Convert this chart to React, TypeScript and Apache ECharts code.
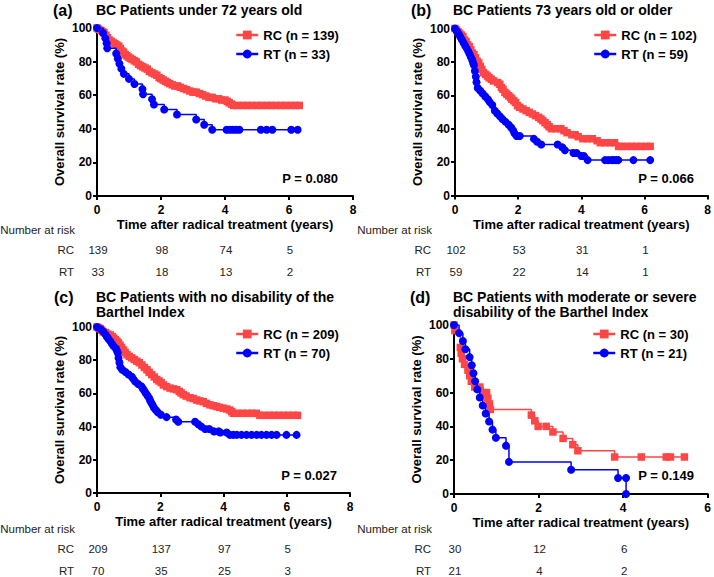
import React, { useEffect, useRef } from "react";
import * as echarts from "echarts";

const FONT = "'Liberation Sans', Arial, Helvetica, sans-serif";
const RED = "#FF4646";
const BLUE = "#0000FF";

// ---- data: [time (years), survival (%)] ----
const rcA = [[0,100],[0.05,99.3],[0.12,98.6],[0.18,97.8],[0.22,97.1],[0.28,95.7],[0.33,94.2],[0.38,92.8],[0.44,92.1],[0.5,91.4],[0.56,90.6],[0.62,89.9],[0.68,89.2],[0.73,87.8],[0.78,86.3],[0.83,85.6],[0.88,84.2],[0.93,83.5],[0.98,82.7],[1.04,82],[1.1,81.3],[1.17,80.5],[1.23,79.8],[1.3,78.4],[1.36,77.6],[1.43,76.9],[1.5,76.2],[1.57,75.5],[1.64,74.1],[1.72,73.3],[1.8,72.6],[1.87,71.9],[1.94,70.5],[2.0,69.8],[2.07,69],[2.14,68.3],[2.2,67.6],[2.27,66.9],[2.35,66.2],[2.43,65.5],[2.52,65.5],[2.6,64.7],[2.7,64],[2.8,63.3],[2.9,62.5],[3.0,61.8],[3.1,61.8],[3.2,61],[3.3,60.3],[3.4,59.5],[3.5,58.7],[3.6,58.7],[3.7,57.9],[3.8,57.9],[3.9,57.1],[4.0,57.1],[4.07,56.3],[4.13,55.5],[4.2,54.7],[4.27,53.9],[4.4,53.9],[4.55,53.9],[4.7,53.9],[4.85,53.9],[5.0,53.9],[5.15,53.9],[5.3,53.9],[5.45,53.9],[5.6,53.9],[5.75,53.9],[5.9,53.9],[6.05,53.9],[6.2,53.9],[6.32,53.9]];
const rtA = [[0,100],[0.19,97],[0.26,93.9],[0.3,90.9],[0.32,87.9],[0.6,84.8],[0.65,81.8],[0.7,78.8],[0.76,75.8],[0.84,72.7],[1.0,69.7],[1.17,66.7],[1.42,63.6],[1.44,60.6],[1.72,57.6],[1.78,54.5],[2.1,51.5],[2.5,48.5],[3.1,45.5],[3.35,42.4],[3.6,39.4],[4.05,39.4],[4.15,39.4],[4.25,39.4],[4.35,39.4],[4.45,39.4],[5.12,39.4],[5.3,39.4],[5.48,39.4],[6.07,39.4],[6.27,39.4]];
const rcB = [[0,100],[0.05,99],[0.1,98],[0.15,97.1],[0.2,96.1],[0.25,95.1],[0.3,93.1],[0.35,92.2],[0.4,90.2],[0.45,89.2],[0.5,87.3],[0.55,85.3],[0.6,84.3],[0.65,82.4],[0.7,80.4],[0.75,79.4],[0.8,77.4],[0.85,75.5],[0.9,73.5],[0.97,72.5],[1.03,71.5],[1.08,70.5],[1.15,69.6],[1.22,68.6],[1.35,67.6],[1.42,66.6],[1.47,64.6],[1.52,63.6],[1.58,61.7],[1.64,60.7],[1.7,59.7],[1.76,58.7],[1.8,57.7],[1.86,56.7],[1.92,55.7],[1.98,53.8],[2.05,52.8],[2.15,51.8],[2.25,50.8],[2.35,49.8],[2.45,48.8],[2.55,47.8],[2.65,46.8],[2.72,45.8],[2.78,44.8],[2.85,43.6],[2.92,42.4],[2.98,41.2],[3.05,40],[3.2,40],[3.35,40],[3.45,38.8],[3.55,37.6],[3.7,36.4],[3.8,36.4],[3.9,35.2],[4.05,34],[4.2,34],[4.35,34],[4.5,32.8],[4.6,31.6],[4.75,31.6],[4.9,31.6],[5.05,31.6],[5.18,29.4],[5.3,29.4],[5.45,29.4],[5.6,29.4],[5.75,29.4],[5.9,29.4],[6.05,29.4],[6.18,29.4]];
const rtB = [[0,100],[0.06,98.3],[0.12,96.6],[0.17,94.9],[0.22,93.2],[0.27,91.5],[0.32,89.8],[0.37,88.1],[0.42,86.4],[0.46,84.7],[0.5,83],[0.54,81.4],[0.57,79.7],[0.6,78],[0.63,74.6],[0.66,71.2],[0.68,67.8],[0.72,64.4],[0.8,62.7],[0.88,61],[0.96,59.3],[1.04,57.6],[1.1,55.9],[1.18,54.2],[1.26,50.8],[1.34,49.1],[1.42,47.5],[1.5,45.8],[1.6,44.1],[1.7,42.4],[1.78,40.7],[1.84,39],[1.88,37.3],[1.95,35.6],[2.05,35.6],[2.5,33.9],[2.6,32.2],[2.73,30.5],[3.25,30.5],[3.4,28.8],[3.48,27.1],[3.75,25.4],[3.85,25.4],[4.0,23.7],[4.08,23.7],[4.2,21.2],[4.75,21.2],[4.85,21.2],[4.95,21.2],[5.02,21.2],[5.1,21.2],[5.17,21.2],[5.65,21.2],[6.18,21.2]];
const rcC = [[0,100],[0.05,99.5],[0.1,99],[0.15,98.1],[0.2,97.1],[0.27,96.6],[0.34,95.7],[0.42,95.2],[0.48,94.2],[0.53,93.3],[0.58,92.3],[0.63,91.4],[0.68,90.4],[0.73,89],[0.78,87.6],[0.84,86.1],[0.89,84.7],[0.95,83.3],[1.02,82.3],[1.1,81.4],[1.18,80.4],[1.26,79.4],[1.34,78.5],[1.42,77.1],[1.5,75.6],[1.58,74.2],[1.65,72.7],[1.73,71.3],[1.81,69.9],[1.89,68.4],[1.96,67.5],[2.03,66.5],[2.1,65.1],[2.2,64.1],[2.31,63.2],[2.42,62.7],[2.52,62.2],[2.6,61.2],[2.66,60.3],[2.73,59.3],[2.82,58.4],[2.94,57.4],[3.05,56.9],[3.15,56],[3.25,55.5],[3.36,55],[3.46,54],[3.57,53.1],[3.68,52.6],[3.78,52.1],[3.88,51.6],[3.99,51.1],[4.1,50.6],[4.2,50],[4.26,49],[4.31,48],[4.45,48],[4.6,48],[4.75,48],[4.9,48],[5.04,48],[5.15,46.8],[5.3,46.8],[5.45,46.8],[5.6,46.8],[5.75,46.8],[5.9,46.8],[6.05,46.8],[6.2,46.8],[6.34,46.8]];
const rtC = [[0,100],[0.12,98.6],[0.2,97.1],[0.26,95.7],[0.31,94.3],[0.36,92.9],[0.42,91.4],[0.47,90],[0.52,88.6],[0.6,87.1],[0.63,85.7],[0.66,84.3],[0.68,81.4],[0.71,78.6],[0.74,75.7],[0.8,74.3],[0.9,72.9],[1.0,71.4],[1.1,70],[1.15,68.6],[1.21,67.1],[1.3,65.7],[1.4,64.3],[1.45,62.9],[1.5,61.4],[1.55,60],[1.6,58.6],[1.65,57.1],[1.68,55.7],[1.72,54.3],[1.76,52.9],[1.8,51.4],[1.86,50],[1.92,48.6],[2.02,47.1],[2.2,45.7],[2.5,44.3],[2.57,42.9],[3.1,42.9],[3.2,41.4],[3.3,40],[3.42,38.6],[3.55,38.6],[3.7,37.1],[3.85,37.1],[3.9,36.4],[4.1,36.4],[4.2,35],[4.31,35],[4.42,35],[4.57,35],[4.73,35],[4.89,35],[5.05,35],[5.2,35],[5.36,35],[5.52,35],[5.68,35],[5.99,35],[6.31,35]];
const rcD = [[0,100],[0.02,96.7],[0.15,86.7],[0.17,83.3],[0.2,80],[0.25,76.7],[0.33,73.3],[0.37,70],[0.41,66.7],[0.49,63.3],[0.61,63.3],[0.69,60],[0.77,60],[0.8,56.7],[0.84,53.3],[0.86,50],[1.83,46.7],[1.91,43.3],[1.99,40],[2.18,40],[2.34,36.7],[2.58,32.9],[2.81,29.2],[2.93,25.6],[3.8,21.9],[4.43,21.9],[5.02,21.9],[5.12,21.9],[5.45,21.9]];
const rtD = [[0,100],[0.12,95.2],[0.21,90.5],[0.27,85.7],[0.37,81],[0.42,76.2],[0.46,71.4],[0.5,66.7],[0.55,61.9],[0.61,57.1],[0.68,52.4],[0.75,47.6],[0.83,42.9],[0.91,38.1],[0.99,33.3],[1.23,28.6],[1.3,19],[2.77,14.3],[3.88,9.5],[4.07,9.5],[4.07,0]];

const riskTimes8 = [0, 2, 4, 6];
const riskTimes6 = [0, 2, 4];
const riskRcA = [139, 98, 74, 5];
const riskRtA = [33, 18, 13, 2];
const riskRcB = [102, 53, 31, 1];
const riskRtB = [59, 22, 14, 1];
const riskRcC = [209, 137, 97, 5];
const riskRtC = [70, 35, 25, 3];
const riskRcD = [30, 12, 6];
const riskRtD = [21, 4, 2];

const panels = [
  { tag: "(a)", title: ["BC Patients under 72 years old"], rc: rcA, rt: rtA, rcName: "RC (n = 139)", rtName: "RT (n = 33)", p: "P = 0.080", xMax: 8, riskT: riskTimes8, riskRc: riskRcA, riskRt: riskRtA,
    grid: { left: 97, top: 28, width: 256, height: 168 }, tagX: 53, titleX: 96, titleY: 10, legX: 235, legY: 28, pX: 338, pY: 178, nrX: 75, nrY: 230, rcY: 250, rtY: 272 },
  { tag: "(b)", title: ["BC Patients 73 years old or older"], rc: rcB, rt: rtB, rcName: "RC (n = 102)", rtName: "RT (n = 59)", p: "P = 0.066", xMax: 8, riskT: riskTimes8, riskRc: riskRcB, riskRt: riskRtB,
    grid: { left: 455, top: 28.5, width: 253, height: 167 }, tagX: 411, titleX: 453, titleY: 10, legX: 593, legY: 28, pX: 694, pY: 178, nrX: 432, nrY: 230, rcY: 250, rtY: 272 },
  { tag: "(c)", title: ["BC Patients with no disability of the", "Barthel Index"], rc: rcC, rt: rtC, rcName: "RC (n = 209)", rtName: "RT (n = 70)", p: "P = 0.027", xMax: 8, riskT: riskTimes8, riskRc: riskRcC, riskRt: riskRtC,
    grid: { left: 97, top: 327, width: 253, height: 166 }, tagX: 54, titleX: 96, titleY: 297, legX: 235, legY: 327, pX: 337, pY: 475, nrX: 75, nrY: 529, rcY: 549, rtY: 571 },
  { tag: "(d)", title: ["BC Patients with moderate or severe", "disability of the Barthel Index"], rc: rcD, rt: rtD, rcName: "RC (n = 30)", rtName: "RT (n = 21)", p: "P = 0.149", xMax: 6, riskT: riskTimes6, riskRc: riskRcD, riskRt: riskRtD,
    grid: { left: 454, top: 325, width: 254, height: 169 }, tagX: 410, titleX: 453, titleY: 297, legX: 592, legY: 327, pX: 694, pY: 475, nrX: 432, nrY: 529, rcY: 549, rtY: 571 },
];

const bold = (size: number) => `bold ${size}px ${FONT}`;
const normal = (size: number) => `${size}px ${FONT}`;

export default function App() {
  const ref = useRef<HTMLDivElement>(null);
  useEffect(() => {
    if (!ref.current) return;
    const chart = echarts.init(ref.current, undefined, { renderer: "svg" });
    const axisText = { color: "#000", fontWeight: "bold" as const, fontSize: 12, fontFamily: FONT };
    const nameText = { color: "#000", fontWeight: "bold" as const, fontSize: 13, fontFamily: FONT };
    const option: any = {
      animation: false,
      backgroundColor: "#fff",
      grid: panels.map((p) => ({ ...p.grid, containLabel: false })),
      xAxis: panels.map((p, i) => ({
        gridIndex: i, type: "value", min: 0, max: p.xMax, interval: 2,
        axisLine: { show: true, onZero: false, lineStyle: { color: "#000", width: 2 } },
        axisTick: { show: true, length: 4, lineStyle: { color: "#000", width: 2 } },
        axisLabel: { ...axisText, margin: 8 },
        splitLine: { show: false },
        name: "Time after radical treatment (years)", nameLocation: "middle", nameGap: 22, nameTextStyle: nameText,
      })),
      yAxis: panels.map((p, i) => ({
        gridIndex: i, type: "value", min: 0, max: 100, interval: 20,
        axisLine: { show: true, onZero: false, lineStyle: { color: "#000", width: 2 } },
        axisTick: { show: true, length: 4, lineStyle: { color: "#000", width: 2 } },
        axisLabel: { ...axisText, margin: 5 },
        splitLine: { show: false },
        name: "Overall survival rate (%)", nameLocation: "middle", nameGap: 31, nameRotate: 90, nameTextStyle: nameText,
      })),
      legend: panels.map((p) => ({
        data: [p.rcName, p.rtName], orient: "vertical", left: p.legX, top: p.legY, padding: 0,
        itemWidth: 22, itemHeight: 11, itemGap: 5, selectedMode: false,
        lineStyle: { width: 2.5 },
        textStyle: { ...nameText, lineHeight: 14 },
      })),
      series: panels.flatMap((p, i) => [
        { type: "line", name: p.rcName, xAxisIndex: i, yAxisIndex: i, data: p.rc, step: "end", symbol: "rect", symbolSize: 7.5,
          lineStyle: { color: RED, width: 1.5 }, itemStyle: { color: RED }, z: 2 },
        { type: "line", name: p.rtName, xAxisIndex: i, yAxisIndex: i, data: p.rt, step: "end", symbol: "circle", symbolSize: 8,
          lineStyle: { color: BLUE, width: 1.5 }, itemStyle: { color: BLUE }, z: 3 },
      ]),
    };
    chart.setOption(option);

    const g: any[] = [];
    panels.forEach((p, i) => {
      g.push({ type: "text", x: p.tagX, y: p.titleY, style: { text: p.tag, font: bold(16), fill: "#000", verticalAlign: "middle" } });
      p.title.forEach((line, k) => {
        g.push({ type: "text", x: p.titleX, y: p.titleY + k * 15, style: { text: line, font: bold(14), fill: "#000", verticalAlign: "middle" } });
      });
      g.push({ type: "text", x: p.pX, y: p.pY, style: { text: p.p, font: bold(13), fill: "#000", align: "right", verticalAlign: "middle" } });
      g.push({ type: "text", x: p.nrX, y: p.nrY, style: { text: "Number at risk", font: normal(11.5), fill: "#222", align: "right", verticalAlign: "middle" } });
      g.push({ type: "text", x: p.nrX - 1, y: p.rcY, style: { text: "RC", font: normal(11.5), fill: "#222", align: "right", verticalAlign: "middle" } });
      g.push({ type: "text", x: p.nrX - 1, y: p.rtY, style: { text: "RT", font: normal(11.5), fill: "#222", align: "right", verticalAlign: "middle" } });
      p.riskT.forEach((t, k) => {
        const px = chart.convertToPixel({ xAxisIndex: i } as any, t) as number;
        g.push({ type: "text", x: px + 1, y: p.rcY, style: { text: String(p.riskRc[k]), font: normal(11.5), fill: "#222", align: "center", verticalAlign: "middle" } });
        g.push({ type: "text", x: px + 1, y: p.rtY, style: { text: String(p.riskRt[k]), font: normal(11.5), fill: "#222", align: "center", verticalAlign: "middle" } });
      });
    });
    chart.setOption({ graphic: g });
    return () => chart.dispose();
  }, []);
  return <div ref={ref} style={{ width: 714, height: 577, position: "absolute", left: 0, top: 0 }} />;
}
